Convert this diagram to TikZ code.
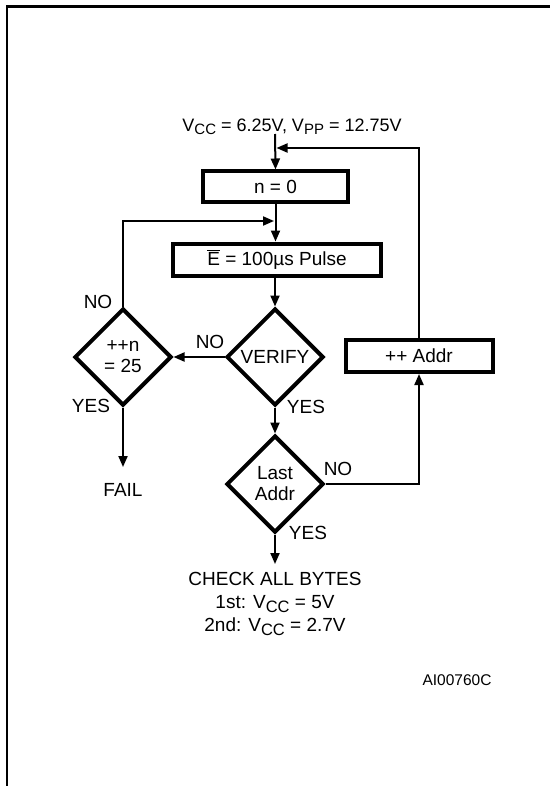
\documentclass[tikz,border=0pt]{standalone}
\usepackage{fontspec}
\setmainfont{Liberation Sans}
\usetikzlibrary{arrows.meta,shapes.geometric}
\newcommand\lowsub[1]{\raisebox{-3.5pt}{\fontsize{15}{15}\selectfont #1}}
\newcommand\lowsubb[1]{\raisebox{-4pt}{\fontsize{16.5}{16.5}\selectfont #1}}
\begin{document}
\begin{tikzpicture}[x=1pt,y=-1pt,
  txt/.style={font=\fontsize{19}{22}\selectfont, inner sep=0pt},
  boxn/.style={draw, line width=4pt, rectangle, inner sep=0pt, font=\fontsize{19}{22}\selectfont},
  dia/.style={draw, line width=4pt, diamond, aspect=1, inner sep=0pt, minimum width=97pt, minimum height=97pt, align=center, font=\fontsize{19}{21}\selectfont},
  conn/.style={line width=2pt},
  arr/.style={conn, -{Triangle[length=11pt,width=9pt]}}]
\useasboundingbox (0,0) rectangle (550,786);
% frame
\draw[line width=2.5pt] (7,786) -- (7,6.5) -- (550,6.5);
% nodes
\node[txt, font=\fontsize{18}{21}\selectfont] (vtop) at (292,127) {V\lowsub{CC} = 6.25V, V\lowsub{PP} = 12.75V};
\coordinate (start) at (275,134);
\coordinate (j1) at (276.5,148);
\node[boxn, minimum width=145pt, minimum height=31pt] (n0) at (275.5,187) {n = 0};
\coordinate (j2) at (274,221);
\node[boxn, minimum width=208pt, minimum height=32pt] (pulse) at (277,259.5) {$\overline{\mbox{E}}$ = 100µs Pulse};
\node[dia] (verify) at (275,357) {VERIFY};
\node[dia] (incn) at (123,357) {++n\\= 25};
\node[dia] (last) at (275,484) {Last\\Addr};
\node[boxn, minimum width=147pt, minimum height=32pt] (addr) at (419,356) {++ Addr};
\coordinate (failend) at (123,467);
\node[txt] (fail) at (123,490) {FAIL};
\coordinate (checkend) at (275,564);
\node[txt, align=center] (check) at (275,604) {CHECK ALL BYTES\\[1pt]1st: V\lowsubb{CC} = 5V\\[1pt]2nd: V\lowsubb{CC} = 2.7V};
\node[txt, font=\fontsize{15.5}{18}\selectfont] (ai) at (457,680) {AI00760C};
% labels
\node[txt] (lno1) at (98,302) {NO};
\node[txt] (lyes1) at (91,406) {YES};
\node[txt] (lno2) at (210,342) {NO};
\node[txt] (lyes2) at (306,407) {YES};
\node[txt] (lno3) at (338,469) {NO};
\node[txt] (lyes3) at (308,533) {YES};
% connectors
\draw[arr] (start) -- (n0.north);
\draw[arr] (addr.north) |- (j1);
\draw[arr] (n0.south) -- (pulse.north -| n0.south);
\draw[arr] (incn.north) |- (j2);
\draw[arr] (pulse.south -| verify.north) -- (verify.north);
\draw[arr] (verify.west) -- (incn.east);
\draw[arr] (incn.south) -- (failend);
\draw[arr] (verify.south) -- (last.north);
\draw[arr] (last.east) -| (addr.south);
\draw[arr] (last.south) -- (checkend);
\end{tikzpicture}
\end{document}
